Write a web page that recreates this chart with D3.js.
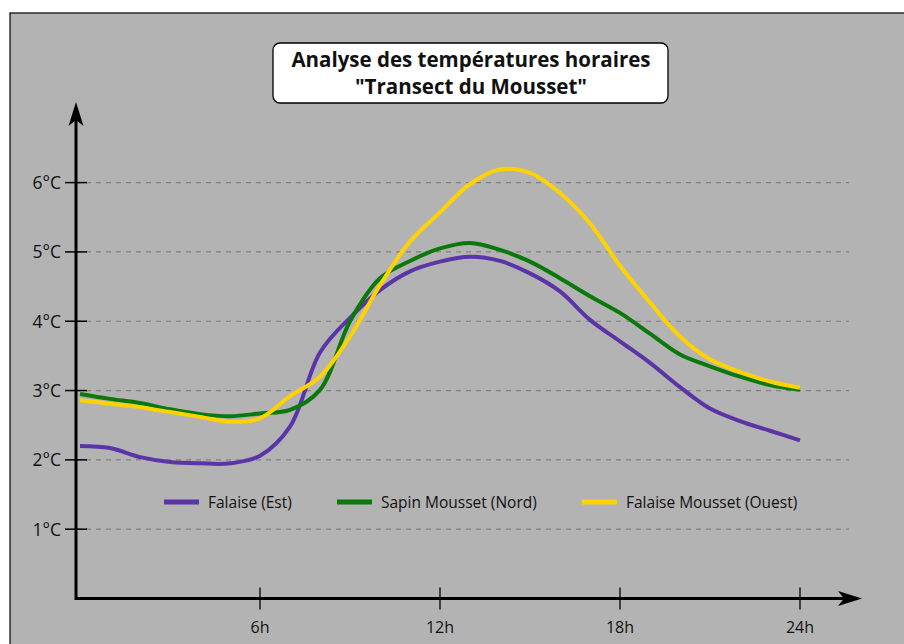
<!DOCTYPE html>
<html><head><meta charset="utf-8">
<script src="https://cdn.jsdelivr.net/npm/d3@7"></script>
<style>body{margin:0;background:#fff}svg{display:block}text{font-family:"Open Sans",Lato,sans-serif}</style>
</head><body><svg id="c" width="904" height="644"></svg>
<script>
const hours = [0,1,2,3,4,5,6,7,8,9,10,11,12,13,14,15,16,17,18,19,20,21,22,23,24];
const falaiseEst = [2.20,2.17,2.04,1.97,1.95,1.95,2.06,2.48,3.55,4.05,4.45,4.72,4.86,4.93,4.87,4.69,4.43,4.02,3.71,3.40,3.05,2.74,2.56,2.42,2.28];
const sapinNord  = [2.95,2.88,2.82,2.73,2.66,2.63,2.67,2.72,3.01,4.00,4.62,4.87,5.05,5.13,5.03,4.86,4.62,4.36,4.12,3.82,3.52,3.35,3.20,3.08,3.01];
const falaiseOuest = [2.86,2.81,2.76,2.69,2.62,2.55,2.60,2.92,3.20,3.78,4.52,5.15,5.57,5.98,6.19,6.14,5.85,5.41,4.80,4.27,3.78,3.45,3.27,3.13,3.04];
const seriesNames = ["Falaise (Est)","Sapin Mousset (Nord)","Falaise Mousset (Ouest)"];
const seriesColors = ["#5b34a8","#0b780b","#ffd200"];
const xTicks = [6,12,18,24];
const xTickLabels = ["6h","12h","18h","24h"];
const yTicks = [1,2,3,4,5,6];
const yTickLabels = ["1°C","2°C","3°C","4°C","5°C","6°C"];
const titleLines = ["Analyse des températures horaires","\"Transect du Mousset\""];

const svg = d3.select("#c");
const x = d3.scaleLinear().domain([0,24]).range([80,800]);
const y = d3.scaleLinear().domain([0,6]).range([598.5,182.6]);
const x0 = 76, yAx = 598.5;

svg.append("rect").attr("x",10).attr("y",13).attr("width",1000).attr("height",1000)
  .attr("fill","#b3b3b3").attr("stroke","#000").attr("stroke-width",1.2);

// grid
svg.append("g").selectAll("line").data(yTicks).join("line")
  .attr("x1",x0).attr("x2",849).attr("y1",d=>y(d)).attr("y2",d=>y(d))
  .attr("stroke","#808080").attr("stroke-width",1.2).attr("stroke-dasharray","5,5");

// lines
const data = [falaiseEst,sapinNord,falaiseOuest];
const line = d3.line().x((d,i)=>x(hours[i])).y(d=>y(d)).curve(d3.curveCatmullRom.alpha(0.5));
svg.append("g").selectAll("path").data(data).join("path")
  .attr("d",d=>line(d)).attr("fill","none").attr("stroke",(d,i)=>seriesColors[i])
  .attr("stroke-width",4);

// axes
svg.append("line").attr("x1",x0).attr("x2",845).attr("y1",yAx).attr("y2",yAx).attr("stroke","#000").attr("stroke-width",3);
svg.append("line").attr("x1",x0).attr("x2",x0).attr("y1",yAx+1.5).attr("y2",118).attr("stroke","#000").attr("stroke-width",3);
svg.append("path").attr("d",`M862,${yAx} L838,${yAx-7.5} L844,${yAx} L838,${yAx+7.5} Z`).attr("fill","#000");
svg.append("path").attr("d",`M${x0},102 L${x0-7.5},126 L${x0},120 L${x0+7.5},126 Z`).attr("fill","#000");

// y ticks
const gy = svg.append("g");
gy.selectAll("line").data(yTicks).join("line").attr("x1",65).attr("x2",87)
  .attr("y1",d=>y(d)).attr("y2",d=>y(d)).attr("stroke","#000").attr("stroke-width",1.5);
gy.selectAll("text").data(yTicks).join("text").attr("x",61).attr("y",d=>y(d)+6.5)
  .attr("text-anchor","end").attr("font-size",17.5).attr("fill","#111").text((d,i)=>yTickLabels[i]);
// x ticks
const gx = svg.append("g");
gx.selectAll("line").data(xTicks).join("line").attr("x1",d=>x(d)).attr("x2",d=>x(d))
  .attr("y1",yAx-11).attr("y2",yAx+11).attr("stroke","#000").attr("stroke-width",1.3);
gx.selectAll("text").data(xTicks).join("text").attr("x",d=>x(d)).attr("y",633)
  .attr("text-anchor","middle").attr("font-size",16).attr("fill","#111").text((d,i)=>xTickLabels[i]);

// legend
const legX = [164,337,582];
const lg = svg.append("g").selectAll("g").data(seriesNames).join("g")
  .attr("transform",(d,i)=>`translate(${legX[i]},502)`);
lg.append("line").attr("x1",0).attr("x2",35).attr("stroke",(d,i)=>seriesColors[i]).attr("stroke-width",5);
lg.append("text").attr("x",44).attr("y",6).attr("font-size",15.5).attr("fill","#111").text(d=>d);

// title
svg.append("rect").attr("x",273).attr("y",43).attr("width",395).attr("height",60).attr("rx",7)
  .attr("fill","#fff").attr("stroke","#000").attr("stroke-width",1.3);
svg.append("g").selectAll("text").data(titleLines).join("text")
  .attr("x",471).attr("y",(d,i)=>66.5+i*27.5).attr("text-anchor","middle")
  .attr("font-size",20.5).attr("font-weight","bold").attr("fill","#111").text(d=>d);
</script></body></html>
